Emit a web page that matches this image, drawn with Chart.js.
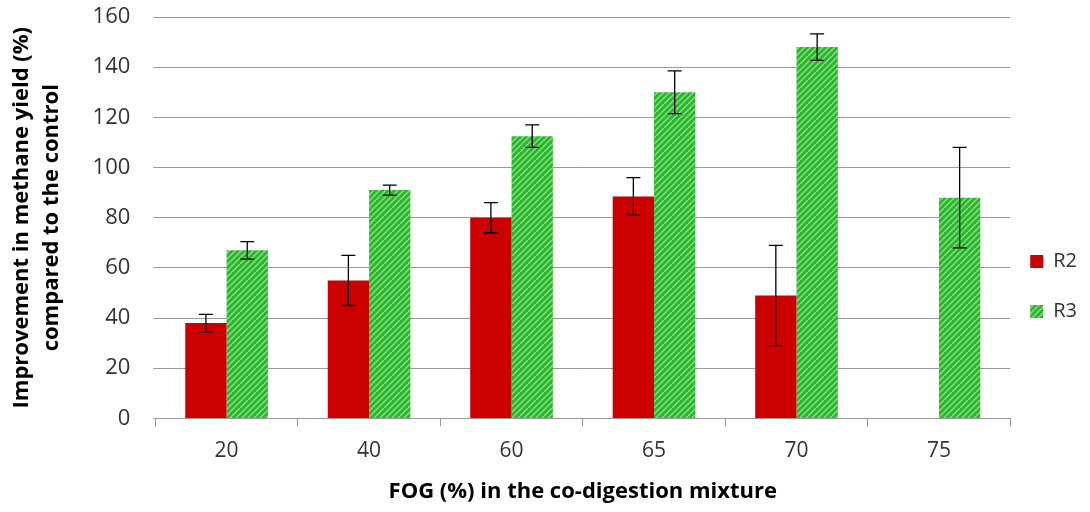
<!DOCTYPE html>
<html>
<head>
<meta charset="utf-8">
<script src="https://cdn.jsdelivr.net/npm/chart.js@4/dist/chart.umd.min.js"></script>
<style>
  body { margin: 0; background: #fff; }
  #wrap { width: 1090px; height: 512px; }
</style>
</head>
<body>
<div id="wrap"><canvas id="chart"></canvas></div>
<script>
var categories = ["20", "40", "60", "65", "70", "75"];
var r2Values = [38, 55, 80, 88.5, 49, null];
var r2Err = [3.5, 10, 6, 7.5, 20, null];
var r3Values = [67, 91, 112.5, 130, 148, 88];
var r3Err = [3.5, 2, 4.5, 8.5, 5.3, 20];
var yTicks = [0, 20, 40, 60, 80, 100, 120, 140, 160];

function hatch() {
    var c = document.createElement("canvas");
    c.width = 6; c.height = 6;
    var ctx = c.getContext("2d");
    ctx.fillStyle = "#2fb42f";
    ctx.fillRect(0, 0, 6, 6);
    ctx.strokeStyle = "#86e386";
    ctx.lineWidth = 1.3;
    ctx.beginPath();
    ctx.moveTo(0, 6); ctx.lineTo(6, 0);
    ctx.moveTo(-3, 3); ctx.lineTo(3, -3);
    ctx.moveTo(3, 9); ctx.lineTo(9, 3);
    ctx.stroke();
    return ctx.createPattern(c, "repeat");
}
var green = hatch();

var errorBars = {
    id: "errorBars",
    afterDatasetsDraw: function (chart) {
        var ctx = chart.ctx;
        var y = chart.scales.y;
        var errs = [r2Err, r3Err];
        ctx.save();
        ctx.strokeStyle = "#000";
        ctx.lineWidth = 1.3;
        chart.data.datasets.forEach(function (ds, i) {
            var meta = chart.getDatasetMeta(i);
            meta.data.forEach(function (bar, j) {
                var v = ds.data[j], e = errs[i][j];
                if (v == null || e == null) return;
                var top = y.getPixelForValue(v + e);
                var bot = y.getPixelForValue(v - e);
                var x = bar.x;
                ctx.beginPath();
                ctx.moveTo(x, top); ctx.lineTo(x, bot);
                ctx.moveTo(x - 7, top); ctx.lineTo(x + 7, top);
                ctx.moveTo(x - 7, bot); ctx.lineTo(x + 7, bot);
                ctx.stroke();
            });
        });
        ctx.restore();
    }
};

new Chart(document.getElementById("chart"), {
    type: "bar",
    data: {
        labels: categories,
        datasets: [
            {
                label: "R2",
                data: r2Values,
                backgroundColor: "#cc0000",
                borderWidth: 0
            },
            {
                label: "R3",
                data: r3Values,
                backgroundColor: green,
                borderWidth: 0
            }
        ]
    },
    options: {
        responsive: true,
        maintainAspectRatio: false,
        animation: false,
        datasets: { bar: { categoryPercentage: 0.58, barPercentage: 1 } },
        layout: { padding: { top: 0, right: 3, left: 2, bottom: 3 } },
        plugins: {
            legend: {
                position: "right",
                title: { display: true, text: " ", font: { size: 10 }, padding: { top: 0, bottom: 62 } },
                labels: {
                    font: { family: "Open Sans", size: 20, lineHeight: 1.5 },
                    color: "#333",
                    boxWidth: 13,
                    boxHeight: 13,
                    padding: 20,
                    // one-line arrays so each row uses the font line height
                    generateLabels: function (chart) {
                        var items = Chart.defaults.plugins.legend.labels.generateLabels(chart);
                        items.forEach(function (it) { it.text = [it.text]; });
                        return items;
                    }
                }
            },
            tooltip: { enabled: false }
        },
        scales: {
            x: {
                grid: { offset: true, drawOnChartArea: false, tickLength: 8, color: "#999" },
                border: { color: "#999" },
                ticks: { font: { family: "Open Sans", size: 21 }, color: "#333", padding: 12 },
                title: {
                    display: true,
                    text: "FOG (%) in the co-digestion mixture",
                    font: { family: "Open Sans", size: 22, weight: "bold" },
                    color: "#000",
                    padding: { top: 3 }
                }
            },
            y: {
                min: 0,
                max: 160,
                afterBuildTicks: function (axis) {
                    axis.ticks = yTicks.map(function (v) { return { value: v }; });
                },
                afterFit: function (axis) {
                    axis.paddingTop = 17;
                    axis.paddingBottom = 10;
                },
                grid: { color: "#999", tickLength: 2 },
                border: { display: false },
                ticks: { font: { family: "Open Sans", size: 22 }, color: "#333", padding: 23 },
                title: {
                    display: true,
                    text: ["Improvement in methane yield (%)", "compared to the control"],
                    font: { family: "Open Sans", size: 22, weight: "bold", lineHeight: 1.4 },
                    color: "#000",
                    padding: { bottom: 2 }
                }
            }
        }
    },
    plugins: [errorBars]
});
</script>
</body>
</html>
